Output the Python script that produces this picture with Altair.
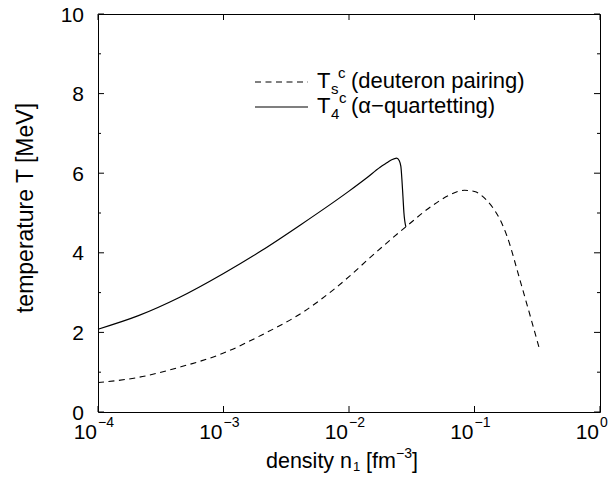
import altair as alt
import pandas as pd

FONT = "Liberation Sans"

# alpha-quartetting critical temperature T_4^c
density_alpha = [1.0e-4, 2.1e-4, 4.4e-4, 1.0e-3, 2.0e-3, 4.1e-3, 1.0e-2,
                 1.38e-2, 1.77e-2, 2.0e-2, 2.19e-2, 2.40e-2, 2.51e-2, 2.59e-2, 2.64e-2,
                 2.69e-2, 2.74e-2, 2.84e-2]
T_alpha = [2.08, 2.42, 2.87, 3.48, 4.05, 4.70, 5.55,
           5.88, 6.15, 6.26, 6.34, 6.38, 6.32, 6.17, 5.84,
           5.42, 5.0, 4.65]

# deuteron pairing critical temperature T_s^c
density_deut = [1.0e-4, 2.1e-4, 4.4e-4, 1.0e-3, 2.0e-3, 4.4e-3, 7.5e-3, 1.0e-2, 1.38e-2,
                2.88e-2, 4.68e-2, 6.31e-2, 8.32e-2, 1.0e-1, 1.25e-1, 1.41e-1, 1.60e-1,
                1.81e-1, 2.31e-1, 3.33e-1]
T_deut = [0.74, 0.87, 1.12, 1.48, 1.93, 2.53, 3.07, 3.40, 3.80,
          4.67, 5.20, 5.45, 5.57, 5.54, 5.32, 5.12, 4.83,
          4.43, 3.30, 1.53]

y_major = [0, 2, 4, 6, 8, 10]
y_minor = [1, 3, 5, 7, 9]
x_decades = [1e-4, 1e-3, 1e-2, 1e-1, 1.0]
x_base = ["10", "10", "10", "10", "10"]
x_exponents = ["\u22124", "\u22123", "\u22122", "\u22121", "0"]

W, H = 502, 398

xs = alt.Scale(type="log", domain=[1e-4, 1])
ys = alt.Scale(domain=[0, 10])

X = lambda f: alt.X(f, scale=xs, axis=None)
Y = lambda f: alt.Y(f, scale=ys, axis=None)

df_a = pd.DataFrame({"n": density_alpha, "T": T_alpha})
df_d = pd.DataFrame({"n": density_deut, "T": T_deut})

alpha_line = alt.Chart(df_a).mark_line(
    color="black", strokeWidth=1.2, interpolate="monotone"
).encode(x=X("n:Q"), y=Y("T:Q"))

deut_line = alt.Chart(df_d).mark_line(
    color="black", strokeWidth=1.1, strokeDash=[6, 4.5], interpolate="monotone"
).encode(x=X("n:Q"), y=Y("T:Q"))


def yticks(vals, x0, x1):
    return alt.Chart(pd.DataFrame({"v": vals})).mark_rule(color="black", strokeWidth=1).encode(
        y=Y("v:Q"), x=alt.value(x0), x2=alt.value(x1))


def xticks(vals, y0, y1):
    return alt.Chart(pd.DataFrame({"v": vals})).mark_rule(color="black", strokeWidth=1).encode(
        x=X("v:Q"), y=alt.value(y0), y2=alt.value(y1))


ticks = [
    yticks(y_major, 0, 6), yticks(y_minor, 0, 3),
    yticks(y_major, W, W - 6), yticks(y_minor, W, W - 3),
    xticks(x_decades, H, H - 6), xticks(x_decades, 0, 6),
]

# tick labels
ylab = alt.Chart(pd.DataFrame({"v": y_major})).mark_text(
    align="right", baseline="middle", fontSize=21, font=FONT, color="black", dy=1.5
).encode(y=Y("v:Q"), x=alt.value(-14), text="v:N")

xlab = alt.Chart(pd.DataFrame({"n": x_decades, "b": x_base})).mark_text(
    align="right", baseline="alphabetic", fontSize=21, font=FONT, color="black", dx=-1
).encode(x=X("n:Q"), y=alt.value(425), text="b:N")

xsup = alt.Chart(pd.DataFrame({"n": x_decades, "e": x_exponents})).mark_text(
    align="left", baseline="alphabetic", fontSize=14, font=FONT, color="black"
).encode(x=X("n:Q"), y=alt.value(413), text="e:N")


def piece(text, x, y, size, angle=0, align="left"):
    return alt.Chart(pd.DataFrame({"t": [text]})).mark_text(
        align=align, baseline="alphabetic", fontSize=size, font=FONT, color="black",
        angle=angle
    ).encode(x=alt.value(x), y=alt.value(y), text="t:N")


# y-axis title
ytitle = piece("temperature T [MeV]", -65, 194, 23, angle=270, align="center")

# x-axis title: density n_1 [fm^-3]
xt = [
    piece("density n", 168, 454, 21.5),
    piece("1", 255, 457, 13),
    piece("[fm", 268, 454, 21.5),
    piece("\u22123", 298, 444, 14),
    piece("]", 314, 454, 21.5),
]

# legend
r1, r2 = 74, 99
leg_lines = [
    alt.Chart(pd.DataFrame({"k": [1]})).mark_rule(color="black", strokeWidth=1.1, strokeDash=[6, 4.5]).encode(
        x=alt.value(157), x2=alt.value(210), y=alt.value(r1 - 6)),
    alt.Chart(pd.DataFrame({"k": [1]})).mark_rule(color="black", strokeWidth=1.2).encode(
        x=alt.value(157), x2=alt.value(210), y=alt.value(r2 - 6)),
]
leg_text = [
    piece("T", 219, r1, 22), piece("s", 233, r1 + 6, 15), piece("c", 240, r1 - 10, 15),
    piece(" (deuteron pairing)", 253, r1, 22),
    piece("T", 219, r2, 22), piece("4", 233, r2 + 6, 15), piece("c", 241, r2 - 10, 15),
    piece(" (\u03b1\u2212quartetting)", 253, r2, 22),
]

chart = alt.layer(
    alpha_line, deut_line, *ticks, ylab, xlab, xsup, ytitle, *xt, *leg_lines, *leg_text
).properties(
    width=W, height=H,
    autosize=alt.AutoSizeParams(type="none"),
    padding={"left": 90, "top": 6, "right": 8, "bottom": 62},
    background="white",
).configure_view(stroke="black", strokeWidth=1)

chart.save("out.html", embed_options={"renderer": "svg", "actions": False})
